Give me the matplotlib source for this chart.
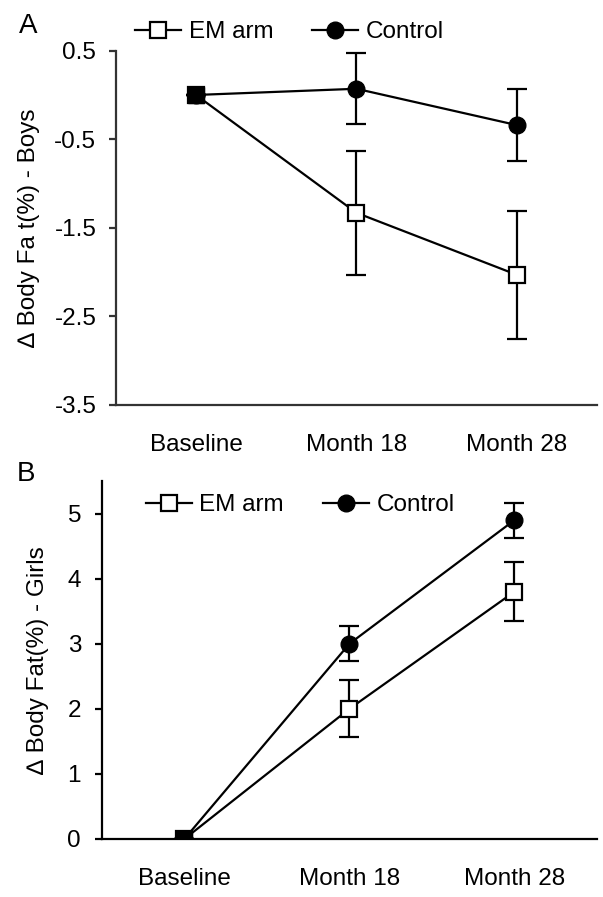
import numpy as np
import matplotlib
matplotlib.use("Agg")
import matplotlib.pyplot as plt
from matplotlib.lines import Line2D

plt.rcParams['font.family'] = ['Liberation Sans', 'DejaVu Sans']

# data
categories = ["Baseline", "Month 18", "Month 28"]

boys_em = [0.0, -1.33, -2.03]
boys_em_err = [0.0, 0.70, 0.72]
boys_ctrl = [0.0, 0.07, -0.34]
boys_ctrl_err = [0.0, 0.40, 0.41]

girls_em = [0.0, 2.00, 3.80]
girls_em_err = [0.0, 0.44, 0.45]
girls_ctrl = [0.0, 3.00, 4.90]
girls_ctrl_err = [0.0, 0.27, 0.27]

boys_ticks = [0.5, -0.5, -1.5, -2.5, -3.5]
girls_ticks = [0, 1, 2, 3, 4, 5]

fig = plt.figure(figsize=(6.03, 8.97), dpi=100)
axA = fig.add_axes([0.192, 0.5485, 0.798, 0.395])
axB = fig.add_axes([0.169, 0.0647, 0.821, 0.399])

x = np.arange(len(categories))
fs = 17.5
ms = 12
lw = 1.6

leg_handles = [
    Line2D([], [], color='black', lw=lw, marker='s', ms=ms, mfc='white',
           mec='black', mew=lw),
    Line2D([], [], color='black', lw=lw, marker='o', ms=ms, mfc='black',
           mec='black'),
]
leg_labels = ["EM arm", "Control"]


def draw(ax, em, em_err, ctrl, ctrl_err, spine_col, leg_pos):
    ax.errorbar(x, ctrl, yerr=ctrl_err, color='black', lw=lw, marker='o',
                ms=ms, mfc='black', mec='black', capsize=7.5, elinewidth=lw,
                capthick=lw, zorder=3)
    ax.errorbar(x, em, yerr=em_err, color='black', lw=lw, marker='s',
                ms=ms, mfc='white', mec='black', mew=lw, capsize=7.5,
                elinewidth=lw, capthick=lw, zorder=4)
    ax.plot(x[:1], em[:1], ls='none', marker='s', ms=ms, mfc='black',
            mec='black', zorder=5)
    ax.set_xlim(-0.5, 2.5)
    ax.set_xticks(x)
    ax.set_xticklabels(categories, fontsize=fs)
    ax.tick_params(axis='x', length=0, pad=21)
    ax.spines['top'].set_visible(False)
    ax.spines['right'].set_visible(False)
    for s in ('bottom', 'left'):
        ax.spines[s].set_linewidth(1.6)
        ax.spines[s].set_color(spine_col)
    ax.tick_params(axis='y', length=5, width=1.6, color=spine_col,
                   labelsize=fs)
    ax.legend(leg_handles, leg_labels, ncol=2, frameon=False, fontsize=fs,
              handlelength=1.9, handletextpad=0.3, columnspacing=1.6,
              borderpad=0, borderaxespad=0, loc='center left',
              bbox_transform=fig.transFigure, bbox_to_anchor=leg_pos)


# panel A - boys
draw(axA, boys_em, boys_em_err, boys_ctrl, boys_ctrl_err, '#333333',
     (0.224, 0.964))
axA.set_ylim(-3.5, 0.5)
axA.set_yticks(boys_ticks)
axA.set_yticklabels([str(t) for t in boys_ticks])
axA.tick_params(axis='y', pad=9)
axA.set_ylabel("∆ Body Fa t(%) - Boys", fontsize=fs, labelpad=10)
fig.text(0.046, 0.971, "A", fontsize=20, ha='center', va='center')

# panel B - girls
draw(axB, girls_em, girls_em_err, girls_ctrl, girls_ctrl_err, 'black',
     (0.242, 0.437))
axB.set_ylim(0, 5.5)
axB.set_yticks(girls_ticks)
axB.set_yticklabels([str(t) for t in girls_ticks])
axB.tick_params(axis='y', pad=10)
axB.set_ylabel("∆ Body Fat(%) - Girls", fontsize=fs, labelpad=13)
fig.text(0.043, 0.472, "B", fontsize=20, ha='center', va='center')

fig.savefig("out.png", dpi=100)
